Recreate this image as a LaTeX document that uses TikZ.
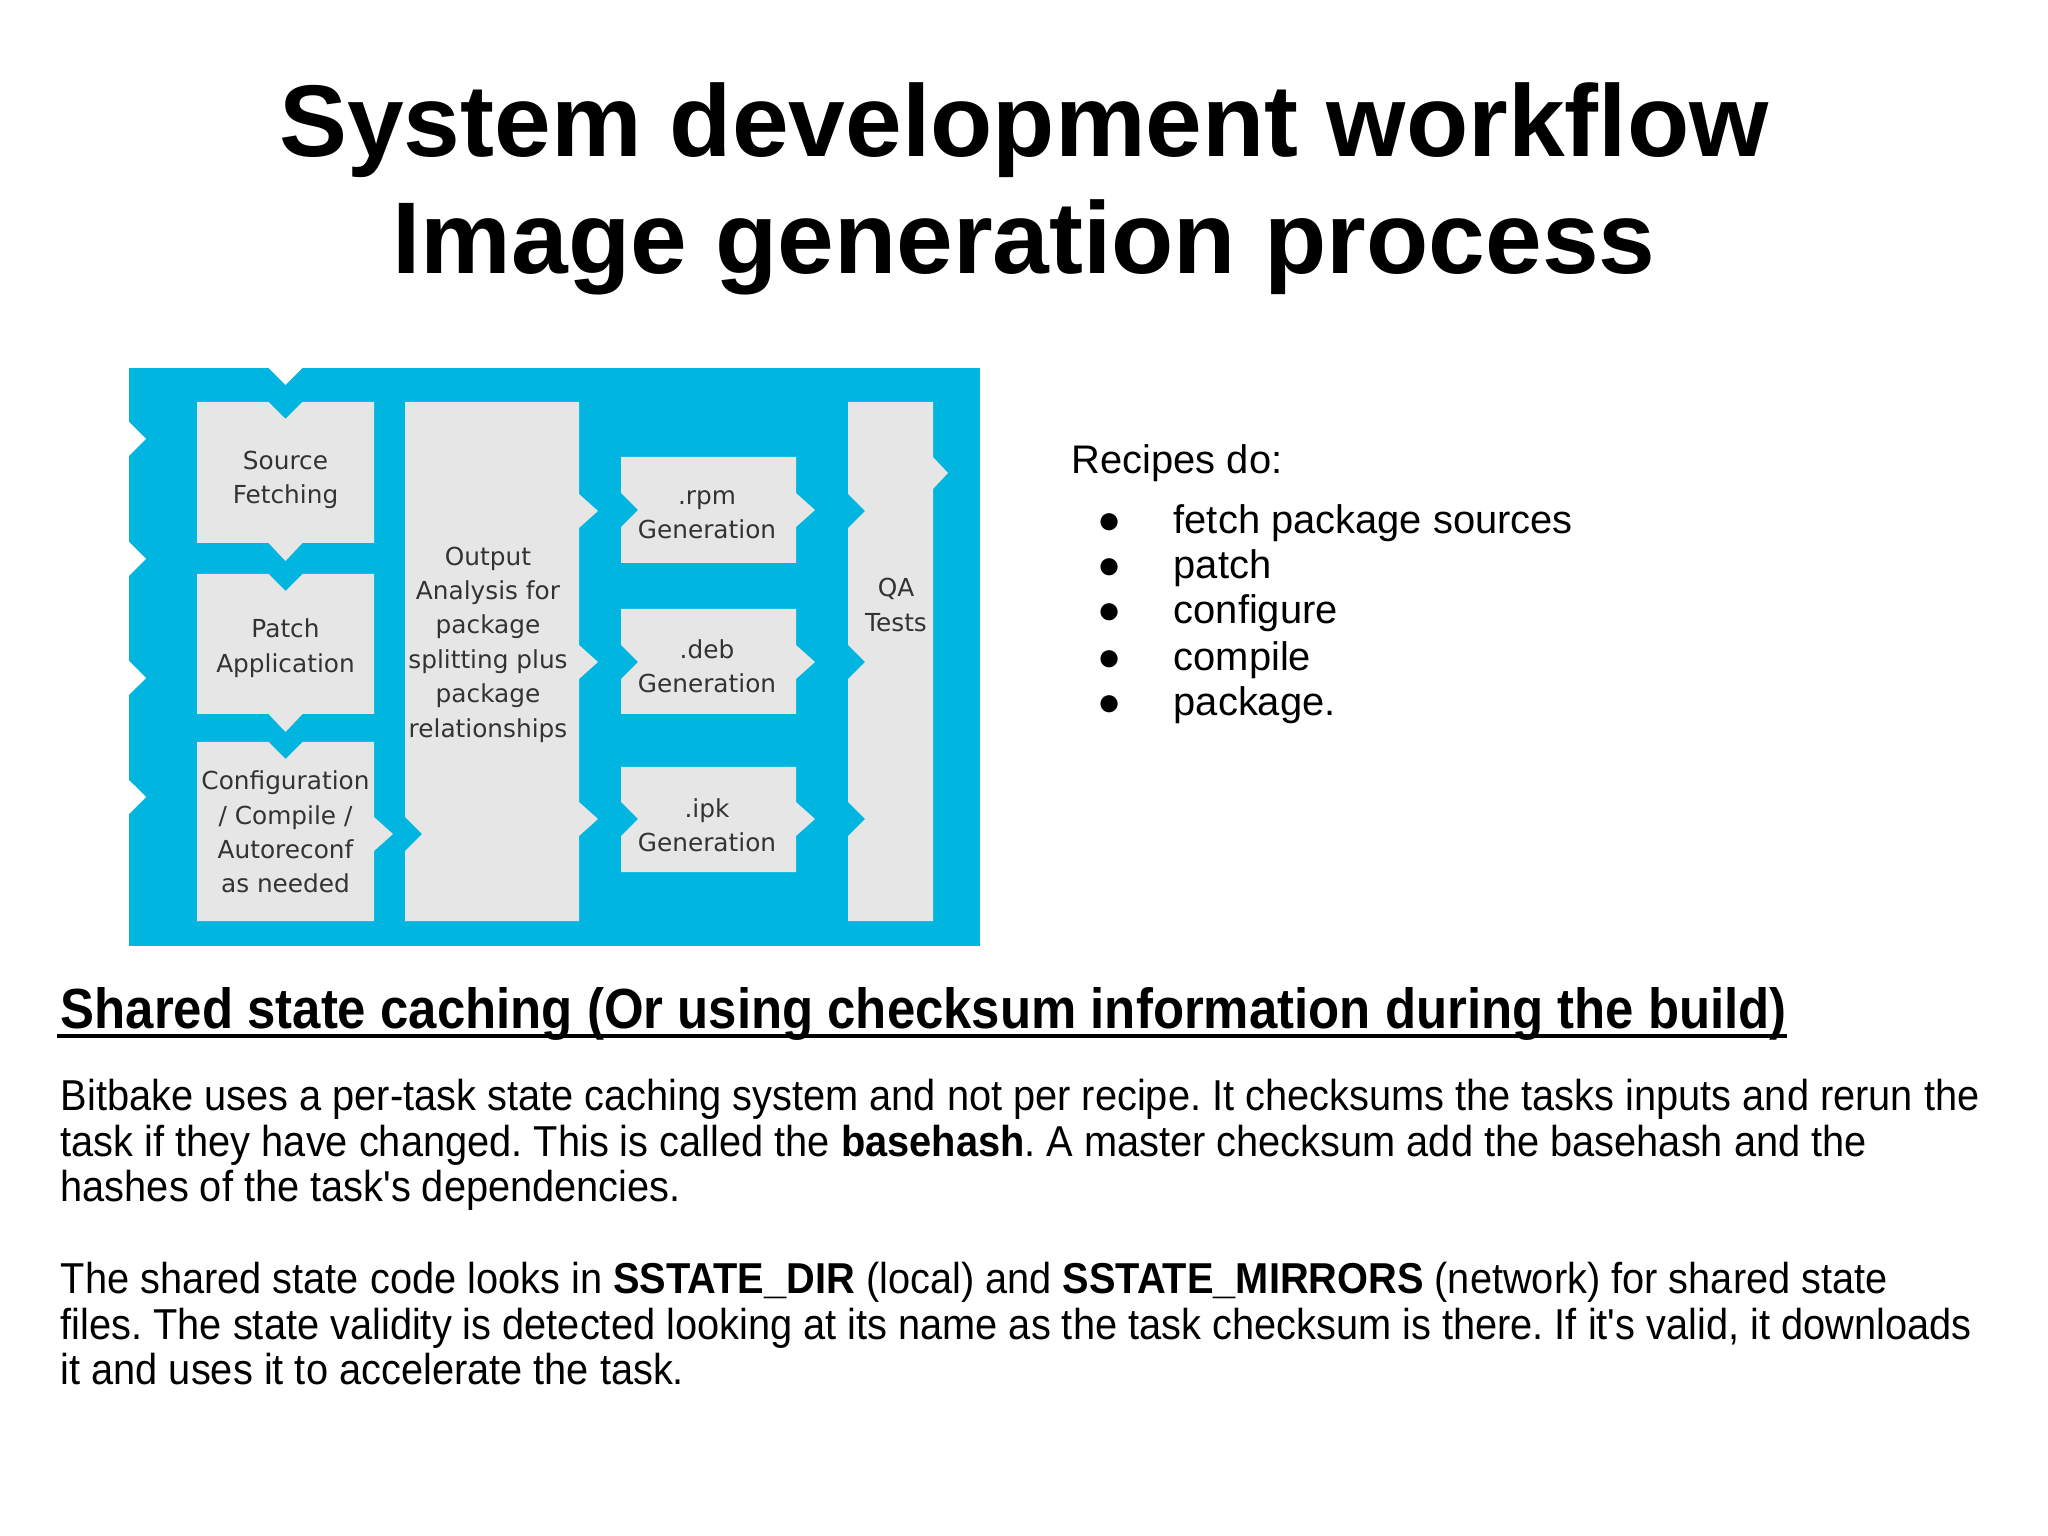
\documentclass[tikz,border=0pt]{standalone}
\usepackage{fontspec}
\usepackage{xcolor}
\setmainfont{Liberation Sans}
\newfontfamily\stepfont{DejaVu Sans}
\newfontfamily\bodyfont[FakeStretch=0.92]{Liberation Sans}
\newfontfamily\headfont[FakeStretch=0.90]{Liberation Sans}
\definecolor{flowblue}{HTML}{00B5DF}
\definecolor{stepgray}{HTML}{E6E6E6}
\definecolor{stepink}{HTML}{333333}
\frenchspacing

\begin{document}
\begin{tikzpicture}[
    panel/.style={fill=flowblue},
    stepbox/.style={fill=stepgray},
    cut/.style={fill=white},
    steplbl/.style={font=\stepfont\fontsize{7.05}{9.8}\selectfont, text=stepink, align=center, inner sep=0pt},
    titletext/.style={font=\bfseries\fontsize{29.0}{33}\selectfont, inner sep=0pt},
    listtext/.style={font=\fontsize{11.35}{13}\selectfont, inner sep=0pt},
    headtext/.style={font=\headfont\bfseries\fontsize{16.1}{18}\selectfont, inner sep=0pt},
    bodytext/.style={font=\bodyfont\fontsize{12.3}{13}\selectfont, inner sep=0pt, anchor=base west},
  ]
  \useasboundingbox (0,0) rectangle (20.48,-15.36);
  \fill[white] (0,0) rectangle (20.48,-15.36);

  % ---- title
  \node[titletext, anchor=base] (title1) at (10.24,-1.57) {System development workflow};
  \node[titletext, anchor=base] (title2) at (10.24,-2.74) {Image generation process};

  % ---- build flow panel
  \fill[panel] (1.29,-3.68) rectangle (9.80,-9.46);
  \fill[cut] (2.685,-3.68) -- (2.855,-3.85) -- (3.025,-3.68) -- cycle;
  \fill[cut] (1.29,-4.22) -- (1.46,-4.39) -- (1.29,-4.56) -- cycle;
  \fill[cut] (1.29,-5.42) -- (1.46,-5.59) -- (1.29,-5.76) -- cycle;
  \fill[cut] (1.29,-6.61) -- (1.46,-6.78) -- (1.29,-6.95) -- cycle;
  \fill[cut] (1.29,-7.80) -- (1.46,-7.97) -- (1.29,-8.14) -- cycle;

  % first column: fetch, patch, configure
  \fill[stepbox] (1.97,-4.02) -- (2.685,-4.02) -- (2.855,-4.19) -- (3.025,-4.02) -- (3.74,-4.02)
    -- (3.74,-5.43) -- (3.025,-5.43) -- (2.855,-5.61) -- (2.685,-5.43) -- (1.97,-5.43) -- cycle;
  \fill[stepbox] (1.97,-5.74) -- (2.685,-5.74) -- (2.855,-5.91) -- (3.025,-5.74) -- (3.74,-5.74)
    -- (3.74,-7.14) -- (3.025,-7.14) -- (2.855,-7.32) -- (2.685,-7.14) -- (1.97,-7.14) -- cycle;
  \fill[stepbox] (1.97,-7.42) -- (2.685,-7.42) -- (2.855,-7.59) -- (3.025,-7.42) -- (3.74,-7.42)
    -- (3.74,-8.17) -- (3.93,-8.34) -- (3.74,-8.51) -- (3.74,-9.21) -- (1.97,-9.21) -- cycle;
  \node[steplbl] (fetch) at (2.855,-4.80) {Source\\Fetching};
  \node[steplbl] (patch) at (2.855,-6.48) {Patch\\Application};
  \node[steplbl] (config) at (2.855,-8.32) {Configuration\\/ Compile /\\Autoreconf\\as needed};

  % second column: output analysis
  \fill[stepbox] (4.05,-4.02) -- (5.79,-4.02) -- (5.79,-4.94) -- (5.98,-5.11) -- (5.79,-5.28)
    -- (5.79,-6.45) -- (5.98,-6.62) -- (5.79,-6.79) -- (5.79,-8.02) -- (5.98,-8.19) -- (5.79,-8.36)
    -- (5.79,-9.21) -- (4.05,-9.21) -- (4.05,-8.51) -- (4.22,-8.34) -- (4.05,-8.17) -- cycle;
  \node[steplbl] (split) at (4.88,-6.445)
    {Output\\Analysis for\\package\\splitting plus\\package\\relationships};

  % third column: package back ends
  \fill[stepbox] (6.21,-4.57) -- (7.96,-4.57) -- (7.96,-4.93) -- (8.15,-5.10) -- (7.96,-5.27)
    -- (7.96,-5.63) -- (6.21,-5.63) -- (6.21,-5.27) -- (6.38,-5.10) -- (6.21,-4.93) -- cycle;
  \fill[stepbox] (6.21,-6.09) -- (7.96,-6.09) -- (7.96,-6.45) -- (8.15,-6.62) -- (7.96,-6.79)
    -- (7.96,-7.14) -- (6.21,-7.14) -- (6.21,-6.79) -- (6.38,-6.62) -- (6.21,-6.45) -- cycle;
  \fill[stepbox] (6.21,-7.67) -- (7.96,-7.67) -- (7.96,-8.02) -- (8.15,-8.19) -- (7.96,-8.36)
    -- (7.96,-8.72) -- (6.21,-8.72) -- (6.21,-8.36) -- (6.38,-8.19) -- (6.21,-8.02) -- cycle;
  \node[steplbl] (rpm) at (7.07,-5.145) {.rpm\\Generation};
  \node[steplbl] (deb) at (7.07,-6.665) {.deb\\Generation};
  \node[steplbl] (ipk) at (7.07,-8.25) {.ipk\\Generation};

  % fourth column: QA
  \fill[stepbox] (8.48,-4.02) -- (9.33,-4.02) -- (9.33,-4.57) -- (9.48,-4.73) -- (9.33,-4.89)
    -- (9.33,-9.21) -- (8.48,-9.21) -- (8.48,-8.36) -- (8.65,-8.19) -- (8.48,-8.02)
    -- (8.48,-6.79) -- (8.65,-6.62) -- (8.48,-6.45) -- (8.48,-5.28) -- (8.65,-5.11) -- (8.48,-4.94) -- cycle;
  \node[steplbl] (qa) at (8.96,-6.05) {QA\\Tests};

  % ---- recipe list
  \node[listtext, anchor=base west] (recipes) at (10.71,-4.74) {Recipes do:};
  \node[listtext, anchor=base] (dot1) at (11.10,-5.33) {●};
  \node[listtext, anchor=base] (dot2) at (11.10,-5.79) {●};
  \node[listtext, anchor=base] (dot3) at (11.10,-6.24) {●};
  \node[listtext, anchor=base] (dot4) at (11.10,-6.70) {●};
  \node[listtext, anchor=base] (dot5) at (11.10,-7.16) {●};
  \node[listtext, anchor=base west] (fetchitem) at (11.73,-5.33) {fetch package sources};
  \node[listtext, anchor=base west] (patchitem) at (11.73,-5.79) {patch};
  \node[listtext, anchor=base west] (confitem) at (11.73,-6.24) {configure};
  \node[listtext, anchor=base west] (compitem) at (11.73,-6.70) {compile};
  \node[listtext, anchor=base west] (packitem) at (11.73,-7.16) {package.};

  % ---- shared state caching
  \node[headtext, anchor=base west] (shared) at (0.60,-10.29)
    {Shared state caching (Or using checksum information during the build)};
  \draw[line width=0.035cm] ([xshift=-0.03cm,yshift=-0.07cm]shared.base west)
    -- ([yshift=-0.07cm]shared.base east);

  \node[bodytext] (para1a) at (0.60,-11.10)
    {Bitbake uses a per-task state caching system and not per recipe. It checksums the tasks inputs and rerun the};
  \node[bodytext] (para1b) at (0.60,-11.56)
    {task if they have changed. This is called the \textbf{basehash}. A master checksum add the basehash and the};
  \node[bodytext] (para1c) at (0.60,-12.01)
    {hashes of the task's dependencies.};
  \node[bodytext] (para2a) at (0.60,-12.93)
    {The shared state code looks in \textbf{SSTATE\_DIR} (local) and \textbf{SSTATE\_MIRRORS} (network) for shared state};
  \node[bodytext] (para2b) at (0.60,-13.39)
    {files. The state validity is detected looking at its name as the task checksum is there. If it's valid, it downloads};
  \node[bodytext] (para2c) at (0.60,-13.84)
    {it and uses it to accelerate the task.};
\end{tikzpicture}
\end{document}
